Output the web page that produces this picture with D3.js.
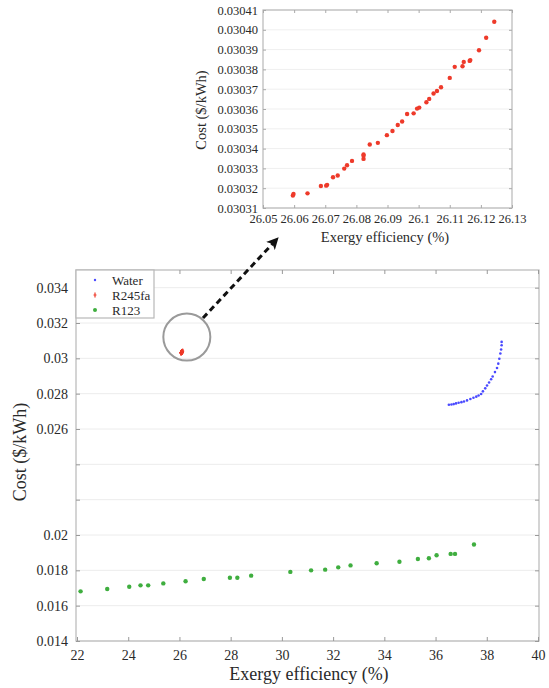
<!DOCTYPE html>
<html>
<head>
<meta charset="utf-8">
<script src="https://cdn.jsdelivr.net/npm/d3@7/dist/d3.min.js"></script>
<style>
  html, body { margin: 0; padding: 0; background: #fff; }
  svg { display: block; }
  text { font-family: "Liberation Serif", "Times New Roman", "DejaVu Serif", serif; fill: #2a2a2a; }
</style>
</head>
<body>
<svg id="chart" width="549" height="688"></svg>
<script>
// ---------- data ----------
const waterX = [36.52, 36.62, 36.71, 36.80, 36.90, 37.01, 37.11, 37.23, 37.36, 37.48, 37.59, 37.68, 37.78, 37.85, 37.94, 38.01, 38.09, 38.17, 38.23, 38.32, 38.40, 38.45, 38.49, 38.53, 38.56, 38.58, 38.58];
const waterY = [0.02737, 0.02739, 0.02741, 0.02745, 0.02749, 0.02752, 0.02756, 0.02762, 0.02770, 0.02777, 0.02783, 0.02790, 0.02798, 0.02813, 0.02830, 0.02846, 0.02863, 0.02882, 0.02897, 0.02922, 0.02945, 0.02970, 0.02998, 0.03027, 0.03050, 0.03074, 0.03093];

const r245X = [26.0596, 26.0598, 26.0643, 26.0686, 26.0703, 26.0706, 26.0725, 26.0740, 26.0761, 26.0770, 26.0786, 26.0823, 26.0823, 26.0823, 26.0843, 26.0869, 26.0898, 26.0916, 26.0933, 26.0947, 26.0963, 26.0984, 26.0995, 26.1002, 26.1025, 26.1034, 26.1048, 26.1059, 26.1072, 26.1100, 26.1116, 26.1141, 26.1145, 26.1164, 26.1166, 26.1194, 26.1217, 26.1243];
const r245Y = [0.0303163, 0.0303171, 0.0303174, 0.0303211, 0.0303213, 0.0303217, 0.0303255, 0.0303264, 0.0303299, 0.0303316, 0.0303338, 0.0303348, 0.0303364, 0.0303370, 0.0303421, 0.0303429, 0.0303468, 0.0303489, 0.0303519, 0.0303537, 0.0303575, 0.0303578, 0.0303602, 0.0303607, 0.0303634, 0.0303651, 0.0303678, 0.0303691, 0.0303710, 0.0303757, 0.0303813, 0.0303816, 0.0303838, 0.0303843, 0.0303847, 0.0303897, 0.0303960, 0.0304041];

const r123X = [22.14, 23.18, 24.04, 24.48, 24.78, 25.37, 26.24, 26.95, 27.97, 28.26, 28.80, 30.33, 31.14, 31.69, 32.20, 32.68, 33.70, 34.59, 35.31, 35.74, 36.04, 36.59, 36.76, 37.50];
const r123Y = [0.01681, 0.01694, 0.01707, 0.01715, 0.01715, 0.01726, 0.01738, 0.01751, 0.01758, 0.01758, 0.01770, 0.01791, 0.01800, 0.01804, 0.01817, 0.01828, 0.01840, 0.01849, 0.01864, 0.01868, 0.01885, 0.01893, 0.01893, 0.01946];

const mainXTicks = [22, 24, 26, 28, 30, 32, 34, 36, 38, 40];
const mainYTicks = [0.014, 0.016, 0.018, 0.02, 0.022, 0.024, 0.026, 0.028, 0.03, 0.032, 0.034];
const mainYLabels = ["0.014", "0.016", "0.018", "0.02", "", "", "0.026", "0.028", "0.03", "0.032", "0.034"];
const insetXTicks = [26.05, 26.06, 26.07, 26.08, 26.09, 26.1, 26.11, 26.12, 26.13];
const insetXLabels = ["26.05", "26.06", "26.07", "26.08", "26.09", "26.1", "26.11", "26.12", "26.13"];
const insetYTicks = [0.03031, 0.03032, 0.03033, 0.03034, 0.03035, 0.03036, 0.03037, 0.03038, 0.03039, 0.03040, 0.03041];
const legendNames = ["Water", "R245fa", "R123"];
const legendColors = ["#4a4aff", "#ee3a2a", "#3fae3f"];

// ---------- main chart ----------
const svg = d3.select("#chart");
const M = { left: 76, right: 539, top: 270, bottom: 641 };
const x = d3.scaleLinear().domain([22, 40]).range([77, 538]);
const y = d3.scaleLinear().domain([0.014, 0.035]).range([M.bottom, M.top]);

const main = svg.append("g");
main.append("g").selectAll("line").data(mainYTicks).join("line")
  .attr("x1", M.left).attr("x2", M.right)
  .attr("y1", d => y(d)).attr("y2", d => y(d))
  .attr("stroke", "#ececec").attr("stroke-width", 1);

main.append("rect").attr("x", M.left).attr("y", M.top)
  .attr("width", M.right - M.left).attr("height", M.bottom - M.top)
  .attr("fill", "none").attr("stroke", "#b8b8b8").attr("stroke-width", 1.2);

const xAxB = d3.axisBottom(x).tickValues(mainXTicks).tickSize(-4).tickPadding(9).tickFormat(d3.format("d"));
const gxb = main.append("g").attr("transform", `translate(0,${M.bottom})`).call(xAxB);
const gxt = main.append("g").attr("transform", `translate(0,${M.top})`).call(d3.axisTop(x).tickValues(mainXTicks).tickSize(-4).tickFormat(""));
const yAxL = d3.axisLeft(y).tickValues(mainYTicks).tickSize(-4).tickPadding(8).tickFormat((d, i) => mainYLabels[i]);
const gyl = main.append("g").attr("transform", `translate(${M.left},0)`).call(yAxL);
const gyr = main.append("g").attr("transform", `translate(${M.right},0)`).call(d3.axisRight(y).tickValues(mainYTicks).tickSize(-4).tickFormat(""));
[gxb, gxt, gyl, gyr].forEach(g => {
  g.select(".domain").remove();
  g.selectAll(".tick line").attr("stroke", "#999");
  g.selectAll("text").attr("font-size", 14).attr("fill", "#2a2a2a")
    .attr("font-family", "Liberation Serif, serif");
});

main.append("g").selectAll("circle").data(waterX).join("circle")
  .attr("cx", d => x(d)).attr("cy", (d, i) => y(waterY[i]))
  .attr("r", 1.3).attr("fill", legendColors[0]);

main.append("g").selectAll("path").data(r245X).join("path")
  .attr("d", (d, i) => {
    const cx = x(d), cy = y(r245Y[i]);
    return `M${cx - 1.5},${cy}H${cx + 1.5}M${cx},${cy - 2.5}V${cy + 2.5}`;
  })
  .attr("stroke", legendColors[1]).attr("stroke-width", 1.3);

main.append("g").selectAll("circle").data(r123X).join("circle")
  .attr("cx", d => x(d)).attr("cy", (d, i) => y(r123Y[i]))
  .attr("r", 2.2).attr("fill", legendColors[2]);

const lg = main.append("g");
lg.append("rect").attr("x", M.left).attr("y", M.top).attr("width", 78).attr("height", 48)
  .attr("fill", "#fff").attr("stroke", "#b8b8b8").attr("stroke-width", 1.2);
legendNames.forEach((n, i) => {
  const ly = 280 + i * 15;
  if (i === 0) lg.append("circle").attr("cx", 95).attr("cy", ly).attr("r", 1.2).attr("fill", legendColors[0]);
  if (i === 1) lg.append("path").attr("d", `M95,${ly - 2.5}V${ly + 2.5}M93.5,${ly}H96.5`).attr("stroke", legendColors[1]).attr("stroke-width", 1.2);
  if (i === 2) lg.append("circle").attr("cx", 95).attr("cy", ly).attr("r", 2).attr("fill", legendColors[2]);
  lg.append("text").attr("x", 112).attr("y", ly + 4.5).attr("font-size", 13).text(n);
});

main.append("text").attr("x", 309).attr("y", 680).attr("text-anchor", "middle")
  .attr("font-size", 18).text("Exergy efficiency (%)");
main.append("text").attr("transform", "translate(26,452) rotate(-90)").attr("text-anchor", "middle")
  .attr("font-size", 18).text("Cost ($/kWh)");

const cX = x(d3.mean(r245X)) + 5, cY = y(d3.mean(r245Y)) - 15;
main.append("circle").attr("cx", cX).attr("cy", cY).attr("r", 23.5)
  .attr("fill", "none").attr("stroke", "#9a9a9a").attr("stroke-width", 2);

const defs = svg.append("defs");
defs.append("marker").attr("id", "ah").attr("viewBox", "0 0 10 10").attr("refX", 8).attr("refY", 5)
  .attr("markerWidth", 4).attr("markerHeight", 4).attr("orient", "auto")
  .append("path").attr("d", "M0,0L10,5L0,10L2.5,5Z").attr("fill", "#111");
main.append("line").attr("x1", 203).attr("y1", 318).attr("x2", 277).attr("y2", 239)
  .attr("stroke", "#111").attr("stroke-width", 3).attr("stroke-dasharray", "6,4")
  .attr("marker-end", "url(#ah)");

// ---------- inset ----------
const I = { left: 263, right: 512, top: 10, bottom: 208 };
const ix = d3.scaleLinear().domain([26.05, 26.13]).range([I.left, I.right]);
const iy = d3.scaleLinear().domain([0.03031, 0.03041]).range([I.bottom, I.top]);
const ins = svg.append("g");
ins.append("rect").attr("x", I.left).attr("y", I.top).attr("width", I.right - I.left)
  .attr("height", I.bottom - I.top).attr("fill", "#fff");
ins.append("g").selectAll("line").data(insetYTicks).join("line")
  .attr("x1", I.left).attr("x2", I.right).attr("y1", d => iy(d)).attr("y2", d => iy(d))
  .attr("stroke", "#efefef");
ins.append("rect").attr("x", I.left).attr("y", I.top).attr("width", I.right - I.left)
  .attr("height", I.bottom - I.top).attr("fill", "none").attr("stroke", "#b8b8b8").attr("stroke-width", 1.2);

const ixb = ins.append("g").attr("transform", `translate(0,${I.bottom})`)
  .call(d3.axisBottom(ix).tickValues(insetXTicks).tickSize(-3).tickPadding(6).tickFormat((d, i) => insetXLabels[i]));
const ixt = ins.append("g").attr("transform", `translate(0,${I.top})`)
  .call(d3.axisTop(ix).tickValues(insetXTicks).tickSize(-3).tickFormat(""));
const iyl = ins.append("g").attr("transform", `translate(${I.left},0)`)
  .call(d3.axisLeft(iy).tickValues(insetYTicks).tickSize(-3).tickPadding(5).tickFormat(d3.format(".5f")));
const iyr = ins.append("g").attr("transform", `translate(${I.right},0)`)
  .call(d3.axisRight(iy).tickValues(insetYTicks).tickSize(-3).tickFormat(""));
[ixb, ixt, iyl, iyr].forEach(g => {
  g.select(".domain").remove();
  g.selectAll(".tick line").attr("stroke", "#aaa");
  g.selectAll("text").attr("font-size", 12.5).attr("fill", "#2a2a2a")
    .attr("font-family", "Liberation Serif, serif");
});

ins.append("g").selectAll("circle").data(r245X).join("circle")
  .attr("cx", d => ix(d)).attr("cy", (d, i) => iy(r245Y[i]))
  .attr("r", 2.2).attr("fill", legendColors[1]);

ins.append("text").attr("x", 385).attr("y", 242).attr("text-anchor", "middle")
  .attr("font-size", 14.5).text("Exergy efficiency (%)");
ins.append("text").attr("transform", "translate(206,110) rotate(-90)").attr("text-anchor", "middle")
  .attr("font-size", 14.5).text("Cost ($/kWh)");
</script>
</body>
</html>
